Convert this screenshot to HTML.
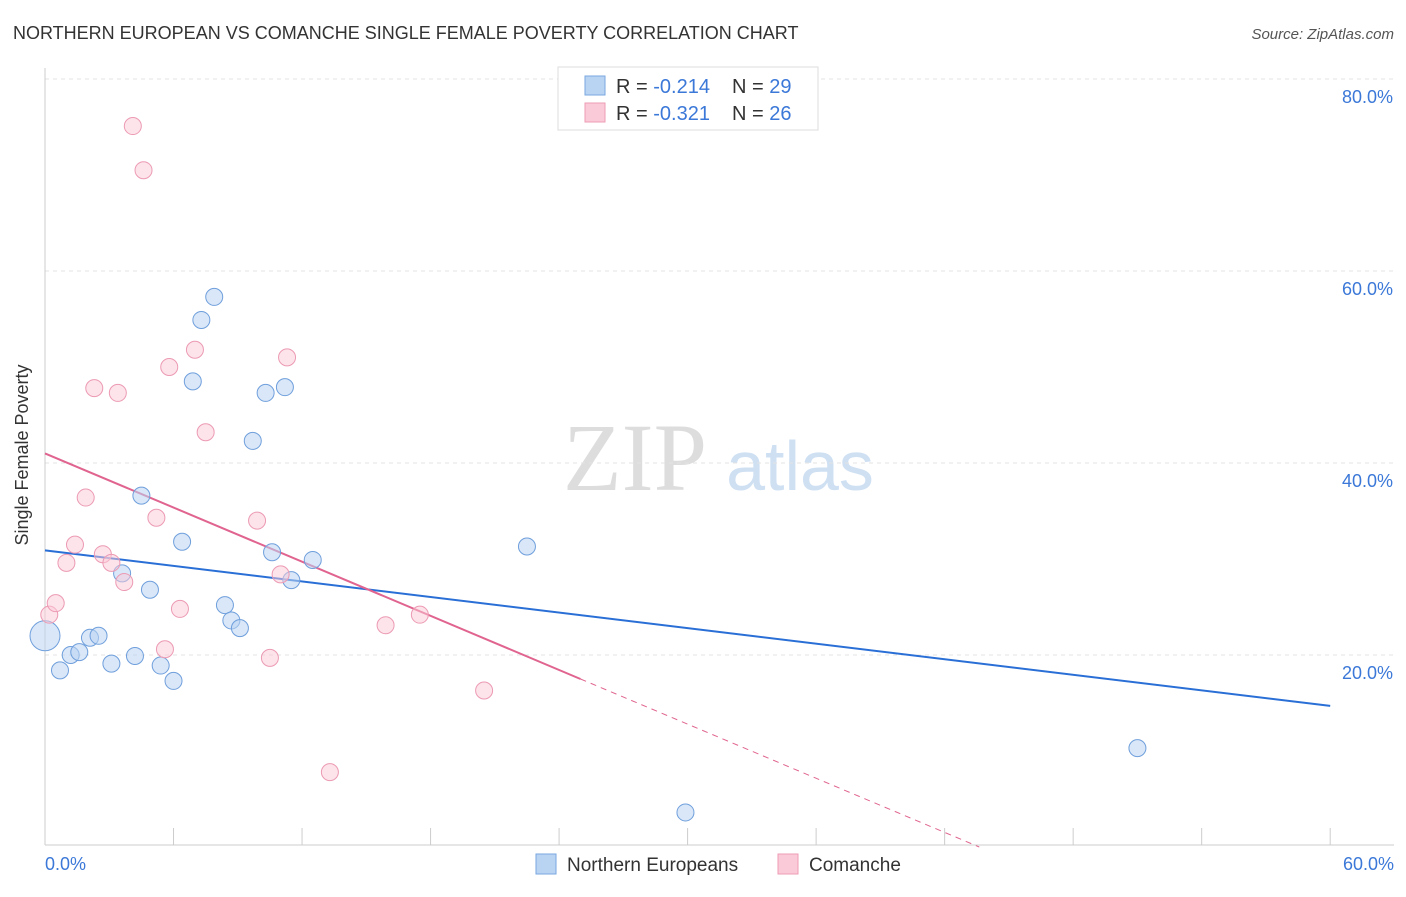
<!DOCTYPE html>
<html><head><meta charset="utf-8"><style>
body{margin:0;background:#fff;font-family:"Liberation Sans",sans-serif}
</style></head><body>
<svg width="1406" height="892" xmlns="http://www.w3.org/2000/svg" font-family="Liberation Sans, sans-serif">
<text x="13" y="39" font-size="18" fill="#333">NORTHERN EUROPEAN VS COMANCHE SINGLE FEMALE POVERTY CORRELATION CHART</text>
<text x="1394" y="39" font-size="15" fill="#555" font-style="italic" text-anchor="end">Source: ZipAtlas.com</text>
<text x="635" y="490" font-size="96" fill="#ddd" font-family="Liberation Serif, serif" text-anchor="middle">ZIP</text>
<text x="800" y="490" font-size="70" fill="#cfe0f3" text-anchor="middle">atlas</text>
<g id="grid"></g>
<line x1="45" y1="845" x2="1394" y2="845" stroke="#ccc"/>
<line x1="45" y1="68" x2="45" y2="845" stroke="#ccc"/>
<text x="28" y="455" font-size="18" fill="#333" text-anchor="middle" transform="rotate(-90 28 455)">Single Female Poverty</text>
<text x="45" y="870" font-size="18" fill="#3b78d8">0.0%</text>
<text x="1394" y="870" font-size="18" fill="#3b78d8" text-anchor="end">60.0%</text>
<g id="trend"></g>
<g id="points"></g>
<g>
<rect x="558" y="67" width="260" height="63" fill="#fff" stroke="#ddd"/>
<rect x="585" y="76" width="20" height="19" fill="#b9d3f3" stroke="#7aa7e0"/>
<rect x="585" y="103" width="20" height="19" fill="#fbcad8" stroke="#ee9cb5"/>
<text x="616" y="93" font-size="20" fill="#333">R = <tspan fill="#3b78d8">-0.214</tspan><tspan x="732">N = </tspan><tspan fill="#3b78d8">29</tspan></text>
<text x="616" y="120" font-size="20" fill="#333">R = <tspan fill="#3b78d8">-0.321</tspan><tspan x="732">N = </tspan><tspan fill="#3b78d8">26</tspan></text>
</g>
<g>
<rect x="536" y="854" width="20" height="20" fill="#b9d3f3" stroke="#7aa7e0"/>
<text x="567" y="871" font-size="19" fill="#333">Northern Europeans</text>
<rect x="778" y="854" width="20" height="20" fill="#fbcad8" stroke="#ee9cb5"/>
<text x="809" y="871" font-size="19" fill="#333">Comanche</text>
</g>
</svg>
<script>
const blueX=[0,0.7,1.2,1.6,2.1,2.5,3.1,3.6,4.2,4.5,4.9,5.4,6.0,6.4,6.9,7.3,7.9,8.4,8.7,9.1,9.7,10.3,10.6,11.2,11.5,12.5,22.5,29.9,51.0];
const blueY=[22,18.4,20,20.3,21.8,22,19.1,28.5,19.9,36.6,26.8,18.9,17.3,31.8,48.5,54.9,57.3,25.2,23.6,22.8,42.3,47.3,30.7,47.9,27.8,29.9,31.3,3.6,10.3];
const pinkX=[0.2,0.5,1.0,1.4,1.9,2.3,2.7,3.1,3.4,3.7,4.1,4.6,5.2,5.6,5.8,6.3,7.0,7.5,9.9,10.5,11,11.3,13.3,15.9,17.5,20.5];
const pinkY=[24.2,25.4,29.6,31.5,36.4,47.8,30.5,29.6,47.3,27.6,75.1,70.5,34.3,20.6,50,24.8,51.8,43.2,34,19.7,28.4,51,7.8,23.1,24.2,16.3];
const yTicks=[20,40,60,80];
const xTicks=[0,6,12,18,24,30,36,42,48,54,60];
const blueTrend=[30.9,14.7];
const pinkTrend=[41,-0.94];
const sx=v=>45+v*21.42, sy=v=>847-v*9.6;
const NS='http://www.w3.org/2000/svg';
function mk(tag,attrs,parent){const e=document.createElementNS(NS,tag);for(const k in attrs)e.setAttribute(k,attrs[k]);document.getElementById(parent).appendChild(e);return e;}
yTicks.forEach(t=>{
 const l=mk('line',{x1:45,x2:1394,y1:sy(t),y2:sy(t),stroke:'#e3e3e3','stroke-dasharray':'4,4'},'grid');
 
 
 const tx=mk('text',{x:1393,y:sy(t)+24,'font-size':18,fill:'#3b78d8','text-anchor':'end'},'grid');
 tx.textContent=t.toFixed(1)+'%';
 
 
});
xTicks.forEach(t=>{
 const l=mk('line',{x1:sx(t),x2:sx(t),y1:828,y2:845,stroke:'#ccc'},'grid');
 
 
});
let b=mk('line',{x1:sx(0),y1:sy(blueTrend[0]),x2:sx(60),y2:sy(blueTrend[1]),stroke:'#2a6fd6','stroke-width':2},'trend');


const pe=25, pz=-pinkTrend[0]/pinkTrend[1];
let p=mk('line',{x1:sx(0),y1:sy(pinkTrend[0]),x2:sx(pe),y2:sy(pinkTrend[0]+pinkTrend[1]*pe),stroke:'#e0648f','stroke-width':2},'trend');


let pd=mk('line',{x1:sx(pe),y1:sy(pinkTrend[0]+pinkTrend[1]*pe),x2:sx(pz),y2:sy(0),stroke:'#e0648f','stroke-width':1,'stroke-dasharray':'6,5'},'trend');


blueX.forEach((x,i)=>{
 const c=mk('circle',{cx:sx(x),cy:sy(blueY[i]),r:i==0?15:8.5,fill:'#b9d3f3','fill-opacity':0.55,stroke:'#6f9fdc','stroke-width':1},'points');
 
 
});
pinkX.forEach((x,i)=>{
 const c=mk('circle',{cx:sx(x),cy:sy(pinkY[i]),r:8.5,fill:'#fbcad8','fill-opacity':0.5,stroke:'#ec9ab3','stroke-width':1},'points');
 
 
});
</script>
</body></html>
